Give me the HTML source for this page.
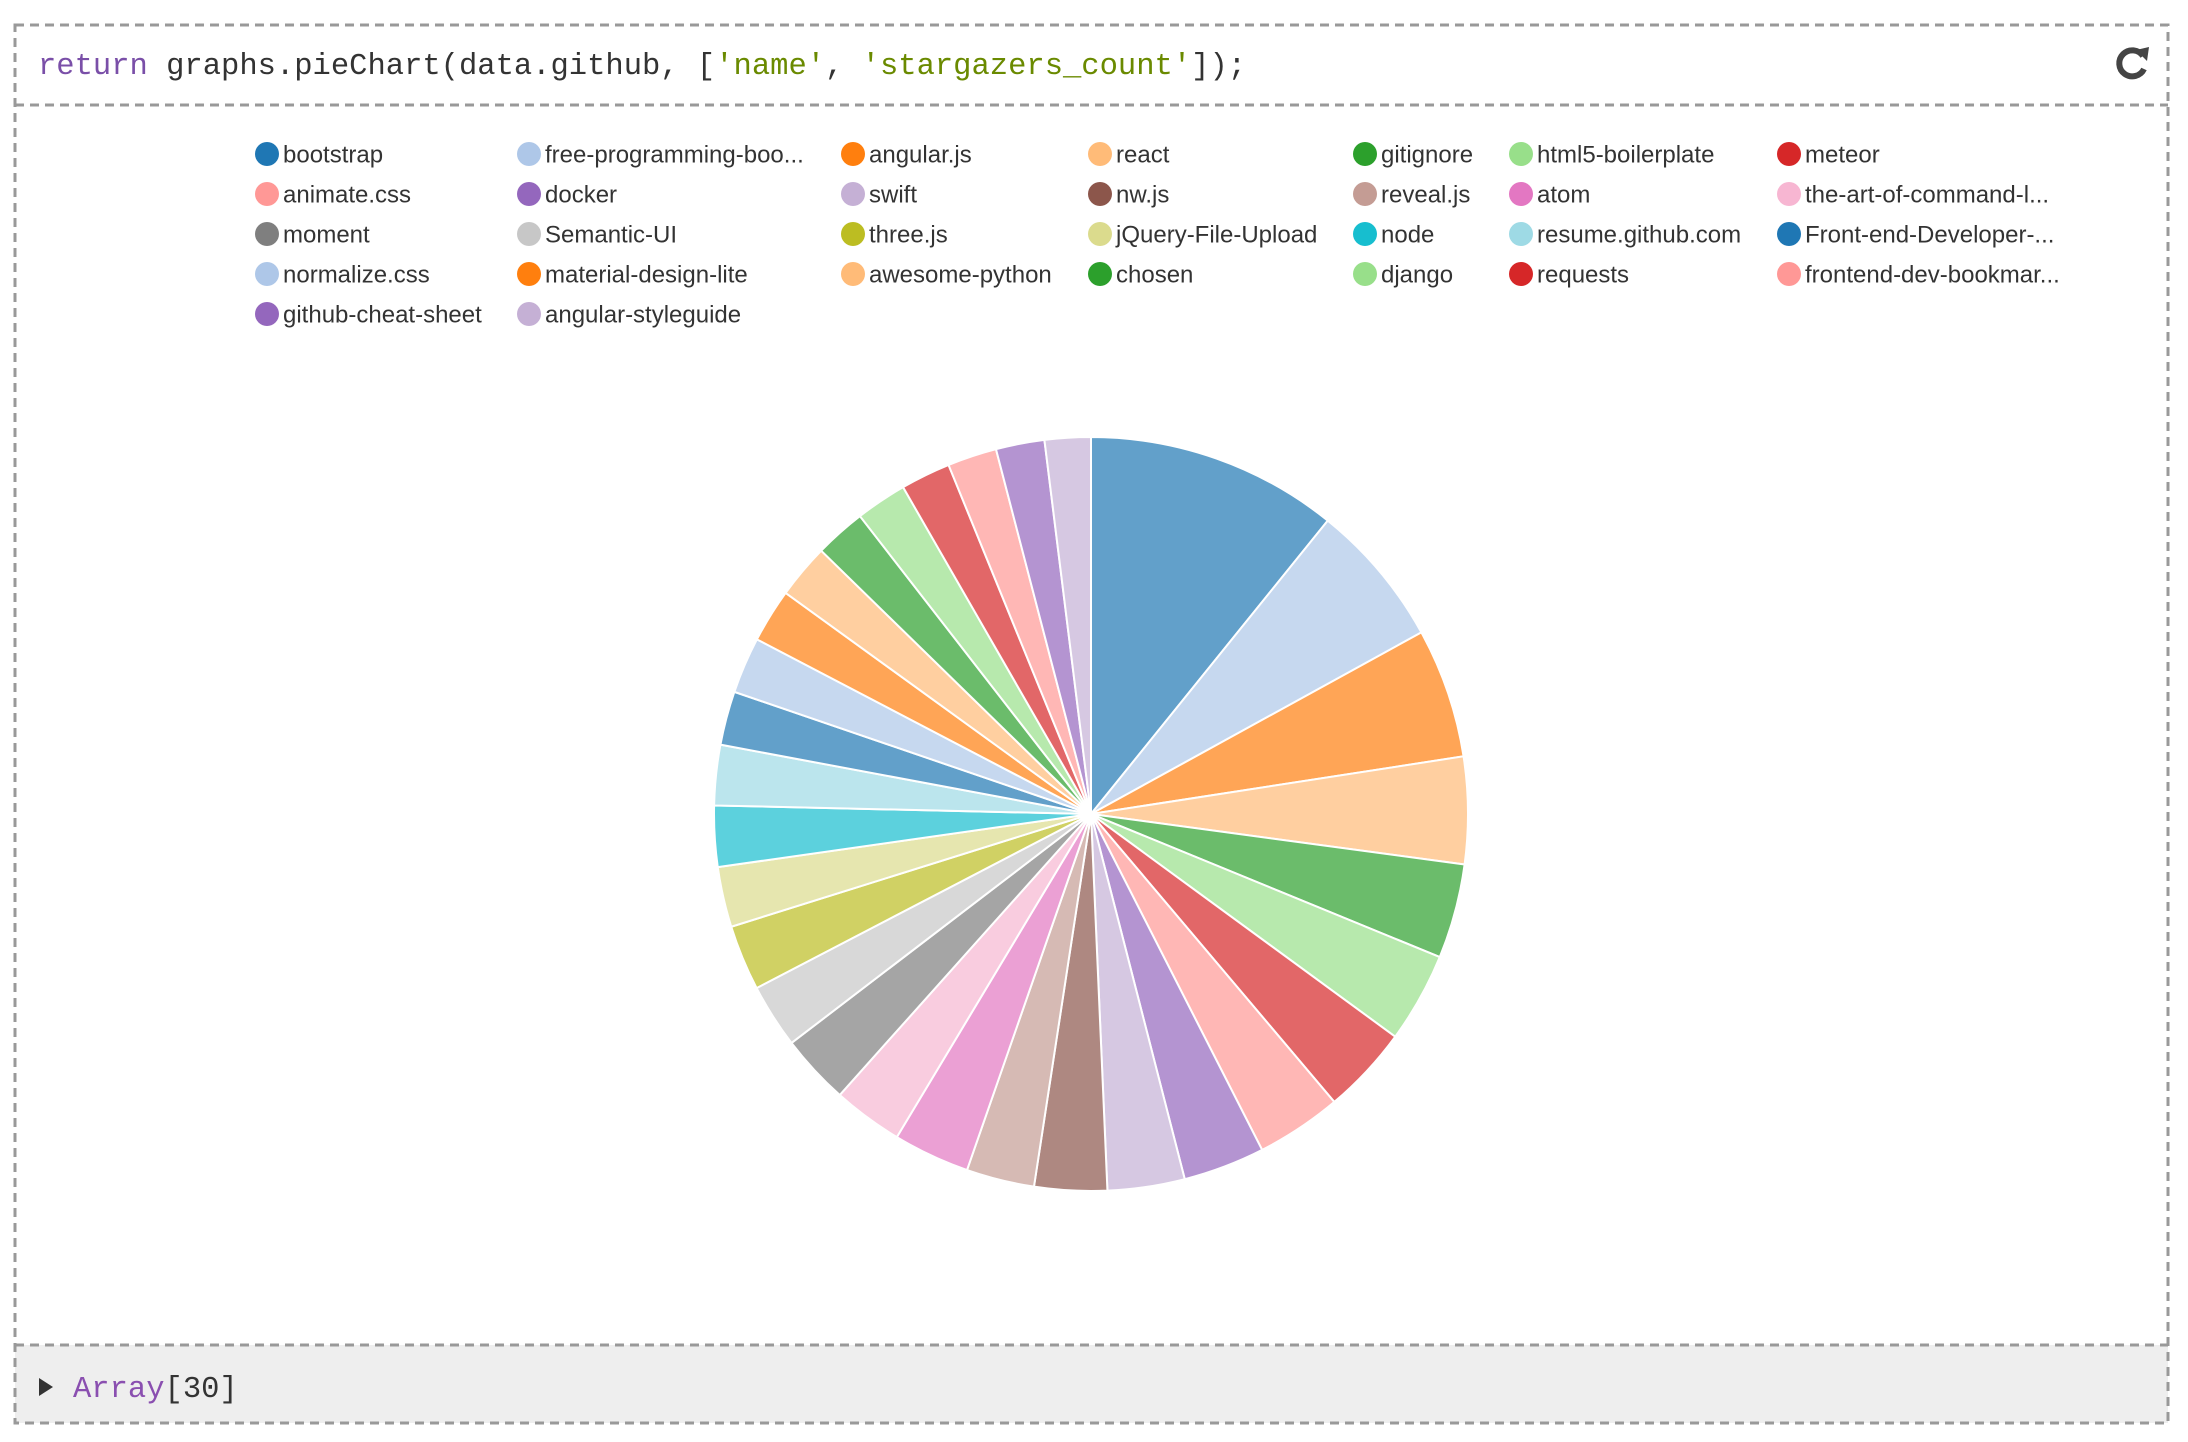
<!DOCTYPE html>
<html><head><meta charset="utf-8"><style>
html,body{margin:0;padding:0;background:#fff;width:2188px;height:1442px;overflow:hidden}
svg{display:block}
</style></head><body>
<svg id="s" width="2188" height="1442" xmlns="http://www.w3.org/2000/svg">
<rect x="15" y="1345" width="2153" height="78" fill="#eeeeee"/>
<g fill="none" stroke="#999" stroke-width="3" stroke-dasharray="9,6">
<rect x="15" y="25" width="2153" height="1398"/>
<line x1="15" y1="105" x2="2168" y2="105"/>
<line x1="15" y1="1345" x2="2168" y2="1345"/>
</g>
<text x="38" y="74" font-family="Liberation Mono, monospace" font-size="30.5" fill="#333"><tspan fill="#7a4fa8">return</tspan> graphs.pieChart(data.github, [<tspan fill="#6a8a00">'name'</tspan>, <tspan fill="#6a8a00">'stargazers_count'</tspan>]);</text>
<g transform="translate(2132,63)">
<path d="M11,-7 A13,13 0 1 0 12,6" fill="none" stroke="#444" stroke-width="6"/>
<polygon points="4,-13 17,-16 15,-2" fill="#444"/>
</g>
<polygon points="39,1378 53,1387 39,1396" fill="#333"/>
<text x="73" y="1397" font-family="Liberation Mono, monospace" font-size="30.5" fill="#333"><tspan fill="#8a4fb0">Array</tspan>[30]</text>
<g id="leg" font-family="Liberation Sans, sans-serif" font-size="24" fill="#333"></g>
<g id="pie" stroke="#fff" stroke-width="2"></g>
</svg>
<script>
var C=["#1f77b4","#aec7e8","#ff7f0e","#ffbb78","#2ca02c","#98df8a","#d62728","#ff9896","#9467bd","#c5b0d5","#8c564b","#c49c94","#e377c2","#f7b6d2","#7f7f7f","#c7c7c7","#bcbd22","#dbdb8d","#17becf","#9edae5"];
var names=["bootstrap","free-programming-boo...","angular.js","react","gitignore","html5-boilerplate","meteor","animate.css","docker","swift","nw.js","reveal.js","atom","the-art-of-command-l...","moment","Semantic-UI","three.js","jQuery-File-Upload","node","resume.github.com","Front-end-Developer-...","normalize.css","material-design-lite","awesome-python","chosen","django","requests","frontend-dev-bookmar...","github-cheat-sheet","angular-styleguide"];
var cols=[267,529,853,1100,1365,1521,1789],rows=[154,194,234,274,314];
var leg=document.getElementById("leg"),h="";
for(var i=0;i<30;i++){var x=cols[i%7],y=rows[Math.floor(i/7)];
h+='<circle cx="'+x+'" cy="'+y+'" r="12" fill="'+C[i%20]+'"/><text x="'+(x+16)+'" y="'+(y+8.5)+'">'+names[i]+'</text>';}
leg.innerHTML=h;
var b=[0,38.9,61.2,81.2,97.7,112.3,126.2,139.8,153,165.6,177.5,188.7,199.2,211,221.8,232.6,242.5,252.6,261.9,271.3,280.6,288.9,297.6,305.9,314.3,322.2,330.1,337.8,345.4,352.9,360];
var cx=1091,cy=814,r=377,p="";
function pt(a){a=a*Math.PI/180;return (cx+r*Math.sin(a)).toFixed(2)+","+(cy-r*Math.cos(a)).toFixed(2);}
for(var i=0;i<30;i++){var a0=b[i],a1=b[i+1];
p+='<path d="M'+cx+','+cy+' L'+pt(a0)+' A'+r+','+r+' 0 '+(a1-a0>180?1:0)+' 1 '+pt(a1)+' Z" fill="'+C[i%20]+'" fill-opacity="0.7"/>';}
document.getElementById("pie").innerHTML=p;
</script>
</body></html>
